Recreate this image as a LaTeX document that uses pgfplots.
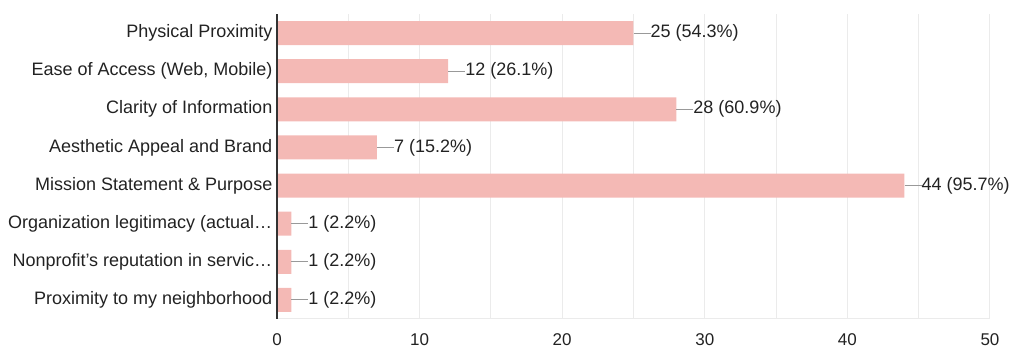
\documentclass[border=0pt]{standalone}
\usepackage{fontspec}
\setmainfont{Liberation Sans}
\usepackage{pgfplots}
\pgfplotsset{compat=1.18}
\definecolor{barc}{HTML}{F4B9B5}
\definecolor{gridc}{HTML}{EBEBEB}
\definecolor{axisc}{HTML}{333333}
\definecolor{txtc}{HTML}{222222}
\definecolor{linec}{HTML}{999999}
\begin{document}
\begin{tikzpicture}
\useasboundingbox (-277pt,-40pt) rectangle (744pt,319pt);
\begin{axis}[
 at={(0pt,0pt)}, anchor=south west,
 scale only axis, width=713pt, height=305pt,
 xmin=0, xmax=50, ymin=-0.5, ymax=7.5,
 xbar, bar width=24pt,
 axis line style={draw=none},
 xtick={0,10,...,50}, minor xtick={5,15,...,45},
 xmajorgrids, xminorgrids,
 major grid style={draw=gridc, line width=1pt},
 minor grid style={draw=gridc, line width=1pt},
 ytick={0,...,7},
 yticklabels={Proximity to my neighborhood, Nonprofit’s reputation in servic…, Organization legitimacy (actual…, Mission Statement \& Purpose, Aesthetic Appeal and Brand, Clarity of Information, {Ease of Access (Web, Mobile)}, Physical Proximity},
 major tick length=0pt, minor tick length=0pt,
 tick style={draw=none},
 /pgf/number format/assume math mode=true,
 xticklabel style={font=\fontsize{17}{20}\selectfont, text=txtc, inner sep=0pt, anchor=north, yshift=-14.6pt},
 yticklabel style={font=\fontsize{18}{21}\selectfont, text=txtc, inner sep=0pt, anchor=east, xshift=-4.5pt},
 nodes near coords, point meta=explicit symbolic,
 every node near coord/.append style={anchor=west, inner sep=0pt, font=\fontsize{18}{21}\selectfont, text=txtc},
 nodes near coords={\textcolor{linec}{\rule[4.2pt]{17pt}{1pt}}\pgfplotspointmeta},
 clip=false,
]
\addplot[fill=barc, draw=none] coordinates {
 (25,7) [25 (54.3\%)]
 (12,6) [12 (26.1\%)]
 (28,5) [28 (60.9\%)]
 (7,4) [7 (15.2\%)]
 (44,3) [44 (95.7\%)]
 (1,2) [1 (2.2\%)]
 (1,1) [1 (2.2\%)]
 (1,0) [1 (2.2\%)]
};
\draw[gridc, line width=1pt] (axis cs:0,-0.5) -- (axis cs:50,-0.5);
\draw[axisc, line width=1.6pt] (axis cs:0,-0.5) -- (axis cs:0,7.5);
\end{axis}
\end{tikzpicture}
\end{document}
